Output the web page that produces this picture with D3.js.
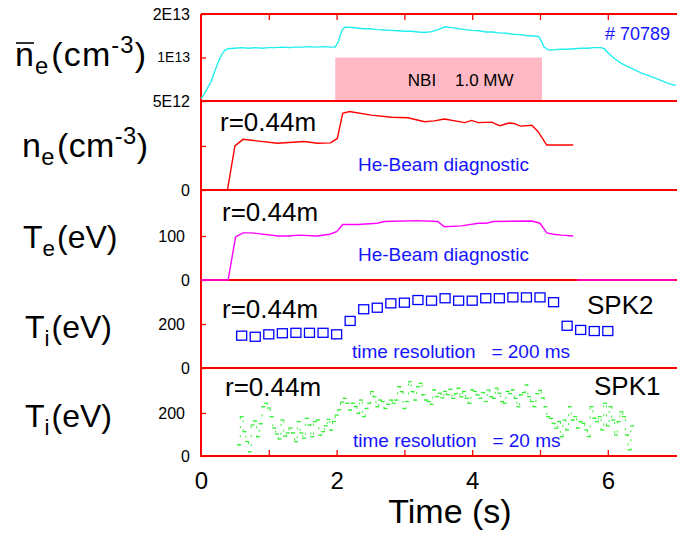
<!DOCTYPE html>
<meta charset="utf-8">
<html>
  <head>
    <style>
      body { margin: 0; background: #fff; }
      text { font-family: "Liberation Sans", Arial, Helvetica, sans-serif; }
      .frame { stroke: #ff0000; stroke-width: 2px; fill: none; }
      .axis .tick line { stroke: #ff0000; stroke-width: 1.3px; }
      .axis path.domain { display: none; }
      .yaxis text { font-size: 16px; fill: #000; }
      .xaxis text { font-size: 24px; fill: #000; }
      .big { font-size: 32px; fill: #000; }
      .note { font-size: 19px; fill: #1414ff; white-space: pre; }
      .rad { font-size: 26px; fill: #000; }
    </style>
    <script src="https://d3js.org/d3.v7.min.js"></script>
  </head>
  <body>
    <div id="chart"></div>
    <script type="text/javascript">
      // line-averaged density (units of 1E13 cm-3)
      var nbarTime = [0, 0.05, 0.1, 0.15, 0.2, 0.25, 0.3, 0.35, 0.4, 0.5, 0.6, 0.7, 0.8, 0.9, 1.0, 1.1, 1.2, 1.3, 1.4, 1.5, 1.6, 1.7, 1.8, 1.9, 1.98,
                      2.03, 2.08, 2.12, 2.2, 2.3, 2.4, 2.5, 2.6, 2.7, 2.8, 2.9, 3.0, 3.1, 3.2, 3.3, 3.4, 3.5, 3.6, 3.7, 3.8, 3.9, 4.0, 4.1, 4.2,
                      4.3, 4.4, 4.5, 4.6, 4.7, 4.8, 4.9, 4.98, 5.02, 5.06, 5.12, 5.2, 5.3, 5.4, 5.5, 5.6, 5.7, 5.8, 5.9, 5.95, 6.0, 6.1, 6.2,
                      6.3, 6.4, 6.5, 6.6, 6.7, 6.8, 6.9, 7.0];
      var nbarValue = [0.52, 0.56, 0.62, 0.68, 0.80, 0.92, 1.04, 1.12, 1.15, 1.16, 1.17, 1.16, 1.17, 1.16, 1.17, 1.17, 1.18, 1.17, 1.18, 1.18, 1.19, 1.18, 1.19, 1.18, 1.18,
                       1.30, 1.55, 1.62, 1.62, 1.60, 1.58, 1.58, 1.56, 1.55, 1.54, 1.53, 1.52, 1.52, 1.50, 1.49, 1.51, 1.56, 1.63, 1.61, 1.58, 1.56, 1.54, 1.53, 1.50,
                       1.50, 1.48, 1.47, 1.45, 1.44, 1.42, 1.41, 1.40, 1.30, 1.18, 1.13, 1.13, 1.14, 1.14, 1.15, 1.16, 1.16, 1.17, 1.17, 1.15, 1.08, 0.98, 0.91,
                       0.86, 0.82, 0.78, 0.75, 0.72, 0.69, 0.66, 0.64];

      // He-beam density at r=0.44m (panel units)
      var neTime = [0, 0.39, 0.50, 0.62, 1.13, 1.52, 1.72, 1.91, 2.01, 2.09, 2.19, 2.51, 2.81, 3.05, 3.30, 3.44, 3.59, 3.89, 3.99, 4.09, 4.29, 4.34, 4.41, 4.54, 4.62, 4.71, 4.88, 4.97, 5.10, 5.49];
      var neValue = [0, 0, 1.00, 1.15, 1.06, 1.10, 1.06, 1.07, 1.17, 1.74, 1.78, 1.70, 1.65, 1.64, 1.55, 1.57, 1.61, 1.53, 1.58, 1.53, 1.54, 1.50, 1.46, 1.52, 1.51, 1.45, 1.47, 1.33, 1.02, 1.02];

      // He-beam Te (eV)
      var teTime = [0, 0.40, 0.51, 0.62, 0.75, 1.14, 1.29, 1.44, 1.71, 1.90, 2.00, 2.09, 2.31, 2.60, 2.70, 3.19, 3.49, 3.59, 3.84, 4.09, 4.21, 4.31, 4.88, 5.00, 5.10, 5.20, 5.32, 5.49];
      var teValue = [0, 0, 98, 107, 107, 100, 100, 102, 100, 104, 110, 126, 126, 129, 133, 135, 133, 121, 123, 129, 129, 133, 134, 129, 107, 104, 102, 100];
      var teZeroSpan = [5.55, 7.0];

      // SPK2 Ti (eV), 200 ms
      var spk2Time = [0.6, 0.8, 1.0, 1.2, 1.4, 1.6, 1.8, 2.0, 2.2, 2.4, 2.6, 2.8, 3.0, 3.2, 3.4, 3.6, 3.8, 4.0, 4.2, 4.4, 4.6, 4.8, 5.0, 5.2, 5.4, 5.6, 5.8, 6.0];
      var spk2Value = [147, 142, 153, 158, 160, 160, 160, 153, 214, 267, 274, 294, 297, 309, 306, 317, 306, 306, 317, 317, 321, 321, 321, 299, 192, 173, 168, 168];

      // SPK1 Ti (eV), sampled every 40 ms from 0.56 s
      var spk1Start = 0.56, spk1Step = 0.04;
      var spk1Value = [52, 183, 113, 67, 20, 144, 163, 90, 150, 229, 245, 223, 183, 130, 102, 79, 167, 92, 107, 130, 107, 67, 160, 107, 83, 175, 144, 90, 160, 167, 97, 113, 140, 170, 120, 160, 190,
                       215, 250, 268, 245, 214, 245, 230, 198, 260, 183, 221, 245, 299, 276, 229, 260, 253, 221, 240, 260, 245, 260, 322, 299, 221, 253, 345, 299, 260, 322, 338, 284, 260, 253, 240, 307, 276, 292, 270, 300, 285, 310, 268, 290, 315, 275, 300, 268, 245,
                       307, 300, 284, 268, 295, 253, 307, 275, 268, 315, 292, 253, 245, 300, 290, 307, 268, 229, 284, 295, 330, 276, 253, 229, 290, 305, 270,
                       229, 183, 175, 152, 129, 160, 90, 167, 121, 229, 167, 183, 130, 160, 152, 121, 90, 229, 176, 160, 183, 121, 245, 140, 229, 167, 98, 160, 205, 183, 98, 28, 140];

      var nbiSpan = [1.98, 5.03], nbiLevel = [0.5, 1.0];
      var xTickValues = [0, 1, 2, 3, 4, 5, 6, 7], xTickLabels = [0, 2, 4, 6];

      var width = 677, height = 533;

      var svg = d3.select("#chart").append("svg")
          .attr("width", width)
          .attr("height", height);

      var x = d3.scaleLinear().domain([0, 7]).range([201, 675.6]);

      var panels = [
        { y: d3.scaleLog().domain([0.5, 2]).range([101, 14]), ticks: [0.5, 1, 2], fmt: function (d) { return d == 2 ? "2E13" : d == 1 ? "1E13" : "5E12"; } },
        { y: d3.scaleLinear().domain([0, 2.02]).range([190, 101]), ticks: [0, 1], fmt: function (d) { return d == 0 ? "0" : ""; } },
        { y: d3.scaleLinear().domain([0, 204.5]).range([280, 190]), ticks: [0, 100], fmt: String },
        { y: d3.scaleLinear().domain([0, 400]).range([368, 280]), ticks: [0, 200], fmt: String },
        { y: d3.scaleLinear().domain([0, 409]).range([456, 368]), ticks: [0, 200], fmt: String }
      ];

      // NBI box
      var p0 = panels[0].y;
      svg.append("rect")
          .attr("x", x(nbiSpan[0]))
          .attr("y", p0(nbiLevel[1]))
          .attr("width", x(nbiSpan[1]) - x(nbiSpan[0]))
          .attr("height", p0(nbiLevel[0]) - p0(nbiLevel[1]))
          .style("fill", "#ffb9c4");
      svg.append("text")
          .attr("x", x(3.05)).attr("y", 86)
          .style("font-size", "17px").style("white-space", "pre")
          .text("NBI    1.0 MW");

      // frame lines
      panels.forEach(function (p) {
        var r = p.y.range();
        [r[0], r[1]].forEach(function (yy) {
          svg.append("line").attr("class", "frame")
              .attr("x1", x(0)).attr("x2", width).attr("y1", yy).attr("y2", yy);
        });
      });
      svg.append("line").attr("class", "frame")
          .attr("x1", x(0)).attr("x2", x(0)).attr("y1", 14).attr("y2", 457);

      // y axes
      panels.forEach(function (p, i) {
        var g = svg.append("g").attr("class", "axis yaxis")
            .attr("transform", "translate(" + x(0) + ",0)")
            .call(d3.axisLeft(p.y).tickValues(p.ticks).tickFormat(p.fmt).tickSize(-5).tickPadding(11));
        if (i == 0) {
          g.selectAll("text").filter(function (d) { return d == 1; }).style("font-size", "14px");
        }
        if (i > 1) {
          g.selectAll("text").filter(function (d) { return d != 0; }).attr("dx", "-5");
        }
      });

      // x axes
      svg.append("g").attr("class", "axis")
          .attr("transform", "translate(0,14)")
          .call(d3.axisTop(x).tickValues(xTickValues.slice(1, 7)).tickSize(-6).tickFormat(""));
      svg.append("g").attr("class", "axis xaxis")
          .attr("transform", "translate(0,456)")
          .call(d3.axisBottom(x).tickValues(xTickValues).tickSize(-6).tickPadding(16)
              .tickFormat(function (d) { return xTickLabels.indexOf(d) >= 0 ? d : ""; }));
      svg.selectAll(".xaxis .tick line").filter(function (d) { return d == 0 || d == 7; }).remove();

      function zipXY(t, v) { return t.map(function (d, i) { return [d, v[i]]; }); }

      // panel 1 : nbar
      svg.append("path")
          .datum(zipXY(nbarTime, nbarValue))
          .attr("d", d3.line().x(function (d) { return x(d[0]); }).y(function (d) { return p0(d[1]); }))
          .style("fill", "none").style("stroke", "#22eef0").style("stroke-width", 1.4);

      // panel 2 : ne
      svg.append("path")
          .datum(zipXY(neTime, neValue))
          .attr("d", d3.line().x(function (d) { return x(d[0]); }).y(function (d) { return panels[1].y(d[1]); }))
          .style("fill", "none").style("stroke", "#ff0000").style("stroke-width", 1.4);

      // panel 3 : Te
      var teLine = d3.line().x(function (d) { return x(d[0]); }).y(function (d) { return panels[2].y(d[1]); });
      svg.append("path")
          .datum(zipXY(teTime, teValue))
          .attr("d", teLine)
          .style("fill", "none").style("stroke", "#ff00ff").style("stroke-width", 1.4);
      svg.append("path")
          .datum([[teZeroSpan[0], 0], [teZeroSpan[1], 0]])
          .attr("d", teLine)
          .style("fill", "none").style("stroke", "#ff00ff").style("stroke-width", 1.6);

      // panel 4 : SPK2 squares
      svg.selectAll(".spk2")
          .data(zipXY(spk2Time, spk2Value))
          .enter().append("rect")
            .attr("class", "spk2")
            .attr("x", function (d) { return x(d[0]) - 5; })
            .attr("y", function (d) { return panels[3].y(d[1]) - 4.5; })
            .attr("width", 10).attr("height", 9)
            .style("fill", "none").style("stroke", "#0000ff").style("stroke-width", 1.3);

      // panel 5 : SPK1 dashes
      var spk1 = spk1Value.map(function (v, i) { return [spk1Start + i * spk1Step, v]; });
      svg.selectAll(".spk1")
          .data(spk1)
          .enter().append("line")
            .attr("class", "spk1")
            .attr("x1", function (d) { return x(d[0]) - 2; })
            .attr("x2", function (d) { return x(d[0]) + 2; })
            .attr("y1", function (d) { return panels[4].y(d[1]); })
            .attr("y2", function (d) { return panels[4].y(d[1]); })
            .style("stroke", "#33ee33").style("stroke-width", 1.3);
      svg.append("path")
          .datum(spk1)
          .attr("d", d3.line().curve(d3.curveStep).x(function (d) { return x(d[0]); }).y(function (d) { return panels[4].y(d[1]); }))
          .style("fill", "none").style("stroke", "#33ee33").style("stroke-width", 1)
          .style("stroke-dasharray", "2,7");

      // annotations
      svg.append("text").attr("class", "note").attr("x", 605).attr("y", 40).style("font-size", "18px").text("# 70789");
      [[131, 220], [221, 222], [318, 222], [396, 225]].forEach(function (a) {
        svg.append("text").attr("class", "rad").attr("x", a[1]).attr("y", a[0]).text("r=0.44m");
      });
      svg.append("text").attr("class", "note").attr("x", 358).attr("y", 171).text("He-Beam diagnostic");
      svg.append("text").attr("class", "note").attr("x", 358).attr("y", 261).text("He-Beam diagnostic");
      svg.append("text").attr("class", "note").attr("x", 352).attr("y", 358).text("time resolution   = 200 ms");
      svg.append("text").attr("class", "note").attr("x", 353).attr("y", 447).text("time resolution   = 20 ms");
      svg.append("text").attr("class", "rad").attr("x", 587).attr("y", 314).text("SPK2");
      svg.append("text").attr("class", "rad").attr("x", 594).attr("y", 395).text("SPK1");

      // left labels
      function label(xl, yb, size, main, sub, rest, sup, close, len) {
        var t = svg.append("text").attr("class", "big").attr("x", xl).attr("y", yb).style("font-size", size + "px");
        t.append("tspan").text(main);
        t.append("tspan").attr("dy", 8).style("font-size", (size * 0.7) + "px").text(sub);
        t.append("tspan").attr("dy", -8).attr("dx", 2).text(rest);
        if (sup) {
          t.append("tspan").attr("dy", -13).style("font-size", (size * 0.7) + "px").text(sup);
          t.append("tspan").attr("dy", 13).text(close);
        }
        if (len) t.attr("textLength", len).attr("lengthAdjust", "spacing");
        return t;
      }
      label(15, 66, 34, "n", "e", "(cm", "-3", ")", 131);
      svg.append("line").attr("x1", 16).attr("x2", 34).attr("y1", 43).attr("y2", 43)
          .style("stroke", "#000").style("stroke-width", 1.6);
      label(22, 157, 34, "n", "e", "(cm", "-3", ")", 126);
      label(23, 248, 32, "T", "e", "(eV)");
      label(25, 338, 32, "T", "i", "(eV)");
      label(25, 427, 32, "T", "i", "(eV)");

      svg.append("text").attr("x", 450).attr("y", 523)
          .style("font-size", "34px").style("text-anchor", "middle")
          .text("Time (s)");
    </script>
  </body>
</html>
